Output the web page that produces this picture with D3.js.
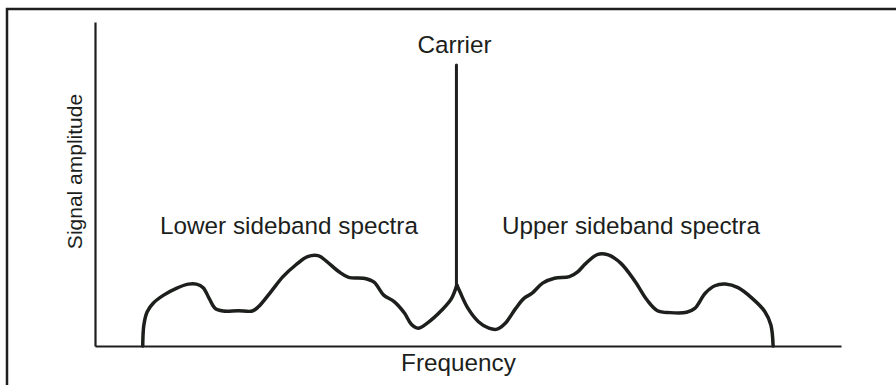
<!DOCTYPE html>
<html>
<head>
<meta charset="utf-8">
<script src="https://cdn.jsdelivr.net/npm/d3@7"></script>
<style>
  html, body { margin: 0; padding: 0; background: #fff; }
  svg { display: block; }
  text { font-family: "Liberation Sans", Arial, Helvetica, sans-serif; fill: #1d1f1d; }
</style>
</head>
<body>
<script>
// Frequency (0–100, relative) and amplitude (0–100, relative) of the sideband envelopes
const lowerFreq = [6.4, 6.55, 7.0, 7.8, 9.2, 10.9, 12.5, 13.6, 14.5, 15.3, 16.1, 17.2, 19.2, 21.1, 21.9, 23.6, 25.2, 26.9, 28.5, 29.9, 31.0, 32.7, 34.0, 36.0, 37.4, 38.7, 40.1, 41.5, 42.4, 43.3, 44.5, 46.5, 47.8, 48.5];
const lowerAmp  = [0,   6.5,  10.6, 13.2, 15.7, 17.8, 19.1, 19.1, 18.0, 14.7, 11.6, 10.8, 10.9, 10.8, 12.1, 16.8, 21.4, 25.0, 27.6, 27.9, 26.2, 22.9, 21.2, 20.9, 19.7, 15.7, 13.7, 10.1, 6.7,  5.5,  7.0,  11.1, 14.7, 18.8];

const upperFreq = [48.5, 48.9, 50.0, 51.4, 52.8, 53.9, 55.0, 56.4, 57.5, 58.6, 60.0, 61.6, 63.6, 64.7, 65.8, 67.4, 68.8, 70.5, 72.4, 74.0, 75.4, 77.1, 79.3, 80.4, 81.8, 83.1, 84.5, 86.2, 88.1, 89.8, 90.6, 90.9];
const upperAmp  = [18.8, 16.8, 11.6, 7.5,  5.5,  5.2,  7.0,  11.6, 14.7, 16.3, 19.4, 20.9, 21.4, 22.9, 25.5, 28.3, 28.1, 25.5, 19.9, 14.2, 10.9, 10.3, 10.4, 11.6, 16.3, 18.6, 19.1, 18.0, 14.7, 10.6, 6.5,  0];

// Carrier line
const carrierFreq = 48.45;
const carrierAmp = 86.7;

// Text
const carrierLabel = "Carrier";
const sidebandLabels = ["Lower sideband spectra", "Upper sideband spectra"];
const xTitle = "Frequency";
const yTitle = "Signal amplitude";

const W = 896, H = 385;
const ink = "#1d1f1d";

const svg = d3.select("body").append("svg")
  .attr("width", W).attr("height", H);

// Outer frame (only top and left edges fall inside the page)
svg.append("rect")
  .attr("x", 7).attr("y", 9)
  .attr("width", W + 20).attr("height", H + 20)
  .attr("fill", "none").attr("stroke", ink).attr("stroke-width", 2.5);

const x = d3.scaleLinear().domain([0, 100]).range([95, 841]);
const y = d3.scaleLinear().domain([0, 100]).range([346, 22]);

// Axes: plain lines, no ticks
const xAxis = svg.append("g")
  .attr("transform", `translate(0,${y(0)})`)
  .call(d3.axisBottom(x).ticks(0).tickSize(0).tickSizeOuter(0));
const yAxis = svg.append("g")
  .attr("transform", `translate(${x(0)},0)`)
  .call(d3.axisLeft(y).ticks(0).tickSize(0).tickSizeOuter(0));
[xAxis, yAxis].forEach(g => {
  g.select(".domain").attr("stroke", ink).attr("stroke-width", 2.2);
  g.selectAll("text").remove();
});

const line = d3.line()
  .x(d => x(d[0]))
  .y(d => y(d[1]))
  .curve(d3.curveCatmullRom.alpha(0.5));

const lower = lowerFreq.map((f, i) => [f, lowerAmp[i]]);
const upper = upperFreq.map((f, i) => [f, upperAmp[i]]);

[lower, upper].forEach(pts => {
  svg.append("path")
    .datum(pts)
    .attr("d", line)
    .attr("fill", "none")
    .attr("stroke", ink)
    .attr("stroke-width", 3.5)
    .attr("stroke-linejoin", "round")
    .attr("stroke-linecap", "round");
});

// Carrier spike rising out of the cusp
svg.append("line")
  .attr("x1", x(carrierFreq)).attr("x2", x(carrierFreq))
  .attr("y1", y(lowerAmp[lowerAmp.length - 1])).attr("y2", y(carrierAmp))
  .attr("stroke", ink).attr("stroke-width", 3)
  .attr("stroke-linecap", "round");

// Labels
const labelSize = 24.3;

svg.append("text")
  .attr("x", 454.5).attr("y", 53)
  .attr("text-anchor", "middle")
  .attr("font-size", labelSize)
  .text(carrierLabel);

svg.append("text")
  .attr("x", 160).attr("y", 234)
  .attr("font-size", labelSize)
  .text(sidebandLabels[0]);

svg.append("text")
  .attr("x", 502).attr("y", 234)
  .attr("font-size", labelSize)
  .text(sidebandLabels[1]);

svg.append("text")
  .attr("x", 458.5).attr("y", 371)
  .attr("text-anchor", "middle")
  .attr("font-size", labelSize)
  .text(xTitle);

svg.append("text")
  .attr("transform", `translate(82,171.5) rotate(-90)`)
  .attr("text-anchor", "middle")
  .attr("font-size", 21)
  .text(yTitle);
</script>
</body>
</html>
